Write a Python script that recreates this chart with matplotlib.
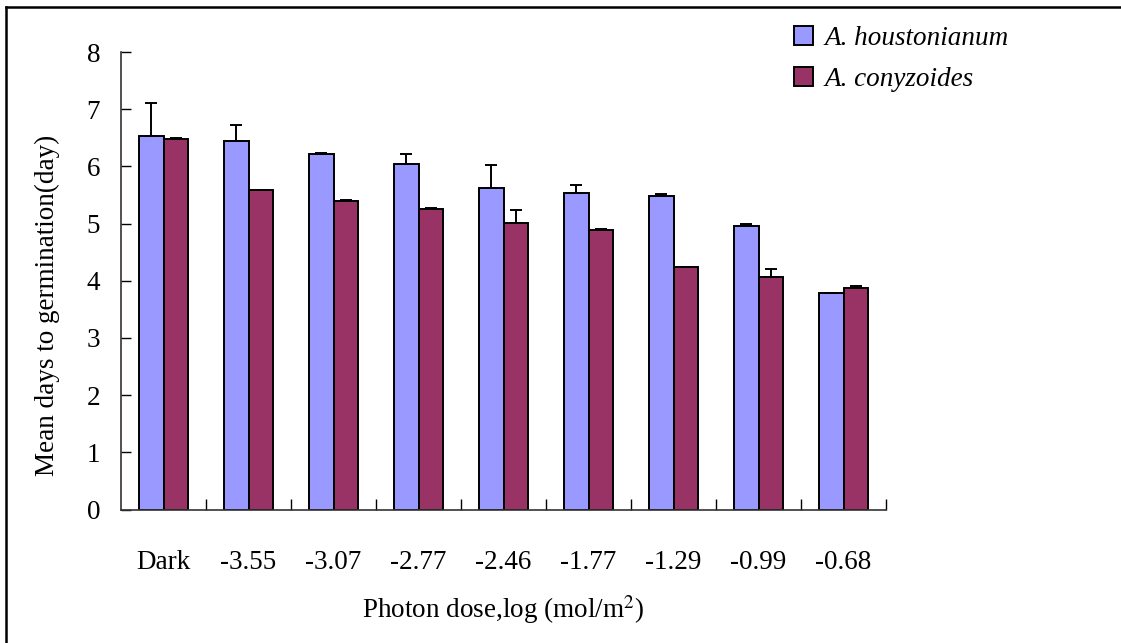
import numpy as np
import matplotlib
matplotlib.use("Agg")
import matplotlib.pyplot as plt
from matplotlib.lines import Line2D

plt.rcParams['font.family'] = ['Liberation Serif', 'DejaVu Serif']
plt.rcParams['mathtext.fontset'] = 'stix'

# photon dose categories
doses = ['Dark', '-3.55', '-3.07', '-2.77', '-2.46', '-1.77', '-1.29', '-0.99', '-0.68']

# mean days to germination and standard errors
houstonianum = [6.53, 6.44, 6.21, 6.05, 5.63, 5.54, 5.49, 4.95, 3.78]
houstonianum_se = [0.57, 0.28, 0.03, 0.16, 0.40, 0.13, 0.03, 0.04, 0.01]
conyzoides = [6.47, 5.58, 5.40, 5.25, 5.01, 4.89, 4.24, 4.06, 3.88]
conyzoides_se = [0.03, 0.0, 0.02, 0.03, 0.23, 0.01, 0.0, 0.15, 0.02]

W, H = 1121, 643
fig = plt.figure(figsize=(W / 100, H / 100), dpi=100)
ax = fig.add_axes([121 / W, 1 - 509.5 / H, (886 - 121) / W, (509.5 - 52) / H])

x = np.arange(len(doses))
bw = 0.294
c1, c2 = '#9999FF', '#993366'

ax.bar(x - bw / 2, houstonianum, bw, color=c1, edgecolor='black', linewidth=1.4,
       label='A. houstonianum', zorder=2)
ax.bar(x + bw / 2, conyzoides, bw, color=c2, edgecolor='black', linewidth=1.4,
       label='A. conyzoides', zorder=2)

# one-sided (upper) error bars
ax.errorbar(x - bw / 2, houstonianum, yerr=[np.zeros(len(x)), houstonianum_se],
            fmt='none', ecolor='black', elinewidth=1.4, capsize=4.5, capthick=1.4, zorder=3)
ax.errorbar(x + bw / 2, conyzoides, yerr=[np.zeros(len(x)), conyzoides_se],
            fmt='none', ecolor='black', elinewidth=1.4, capsize=4.5, capthick=1.4, zorder=3)

ax.set_xlim(-0.5, len(doses) - 0.5)
ax.set_ylim(0, 8)
ax.set_yticks(range(0, 9))
ax.tick_params(axis='y', direction='in', length=7, width=1, labelsize=19.5, pad=15)

ax.set_xticks(x)
ax.set_xticklabels(doses)
ax.tick_params(axis='x', which='major', length=0, labelsize=19.5, pad=29)
ax.set_xticks(np.arange(0.5, len(doses), 1.0), minor=True)
ax.tick_params(axis='x', which='minor', direction='in', length=8, width=1)

for s in ['top', 'right']:
    ax.spines[s].set_visible(False)
for s in ['left', 'bottom']:
    ax.spines[s].set_linewidth(1.2)
    ax.spines[s].set_color('#333333')

fig.text(47 / W, 1 - 305 / H, 'Mean days to germination(day)', fontsize=19.5,
         rotation=90, ha='center', va='center')
fig.text(503 / W, 1 - 610 / H, 'Photon dose,log (mol/m$^2$)', fontsize=19.5,
         ha='center', va='center')

leg = fig.legend(loc='upper left', bbox_to_anchor=(783 / W, 1 - 15 / H), frameon=False,
                 prop={'style': 'italic', 'size': 19.5}, handlelength=0.7, handleheight=0.7,
                 handletextpad=0.45, labelspacing=0.6, borderaxespad=0)

# outer frame lines on left and top
fig.add_artist(Line2D([6 / W, 6 / W], [0, 1 - 7 / H], color='black', lw=1.8))
fig.add_artist(Line2D([6 / W, 1], [1 - 7 / H, 1 - 7 / H], color='black', lw=1.8))

fig.savefig('out.png', dpi=100)
